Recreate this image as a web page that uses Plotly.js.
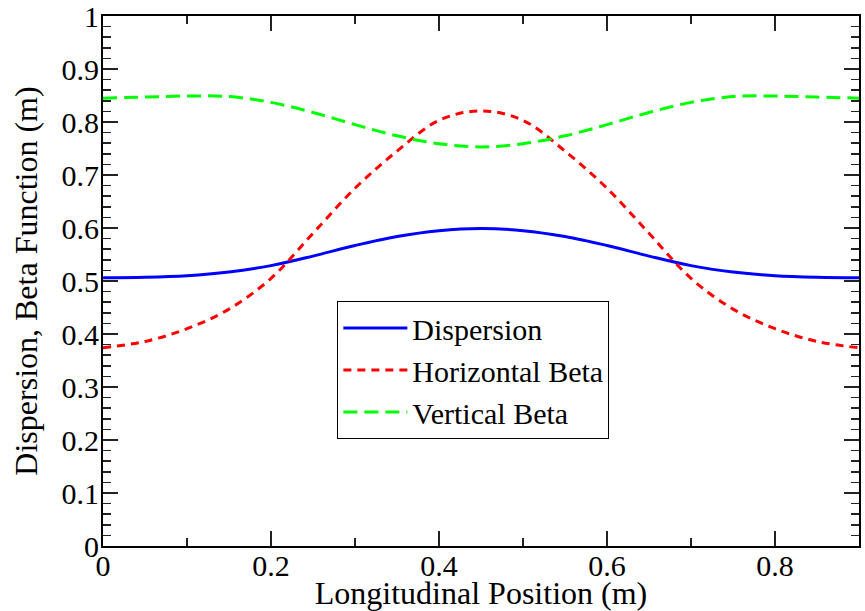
<!DOCTYPE html>
<html>
<head>
<meta charset="utf-8">
<script src="https://cdn.plot.ly/plotly-3.0.1.min.js"></script>
<style>html,body{margin:0;padding:0;background:#fff;}#chart{width:865px;height:611px;}</style>
</head>
<body>
<div id="chart"></div>
<script>
const position = [0, 0.05, 0.1, 0.15, 0.2, 0.25, 0.3, 0.35, 0.4, 0.45, 0.5, 0.55, 0.6, 0.65, 0.7, 0.75, 0.8, 0.85, 0.9];
const dispersion = [0.506, 0.507, 0.510, 0.517, 0.529, 0.547, 0.567, 0.584, 0.595, 0.599, 0.595, 0.584, 0.567, 0.547, 0.529, 0.517, 0.510, 0.507, 0.506];
const horizontalBeta = [0.374, 0.386, 0.410, 0.447, 0.505, 0.590, 0.675, 0.745, 0.803, 0.821, 0.803, 0.745, 0.675, 0.590, 0.505, 0.447, 0.410, 0.386, 0.374];
const verticalBeta = [0.845, 0.847, 0.849, 0.848, 0.837, 0.818, 0.795, 0.774, 0.759, 0.753, 0.759, 0.774, 0.795, 0.818, 0.837, 0.848, 0.849, 0.847, 0.845];
const seriesNames = ["Dispersion", "Horizontal Beta", "Vertical Beta"];

const FONT = "'Liberation Serif', 'Times New Roman', serif";
const cfg = {displayModeBar: false, staticPlot: true};

const traces = [
  {x: position, y: dispersion, name: seriesNames[0], mode: "lines",
   line: {color: "#0000ff", width: 3, shape: "spline", smoothing: 1}},
  {x: position, y: horizontalBeta, name: seriesNames[1], mode: "lines",
   line: {color: "#ff0000", width: 3, dash: "8px,6px", shape: "spline", smoothing: 1}},
  {x: position, y: verticalBeta, name: seriesNames[2], mode: "lines",
   line: {color: "#00ff00", width: 3, dash: "14px,7px", shape: "spline", smoothing: 1}}
];

const layout = {
  width: 865, height: 611,
  margin: {l: 103, r: 6, t: 16, b: 65},
  showlegend: true,
  legend: {
    x: 0.31, y: 0.332, xanchor: "left", yanchor: "middle",
    bgcolor: "#fff", bordercolor: "#000", borderwidth: 1,
    font: {family: FONT, size: 30, color: "#000"},
    itemwidth: 64
  },
  xaxis: {
    range: [0, 0.9], dtick: 0.2, tick0: 0,
    ticks: "inside", ticklen: 15, tickwidth: 1.5, tickcolor: "#222",
    showline: true, linecolor: "#000", linewidth: 2, mirror: "ticks",
    showgrid: false, zeroline: false, ticklabeloverflow: "allow",
    ticklabelstandoff: -8,
    tickfont: {family: FONT, size: 30, color: "#000"},
    minor: {dtick: 0.1, ticks: "inside", ticklen: 8, tickwidth: 1.5, tickcolor: "#222"},
    title: {text: "Longitudinal Position (m)", font: {family: FONT, size: 32, color: "#000"}, standoff: 8}
  },
  yaxis: {
    range: [0, 1], dtick: 0.1, tick0: 0,
    ticks: "inside", ticklen: 15, tickwidth: 1.5, tickcolor: "#222",
    showline: true, linecolor: "#000", linewidth: 2, mirror: "ticks",
    showgrid: false, zeroline: false, ticklabeloverflow: "allow",
    ticklabelstandoff: -4,
    tickfont: {family: FONT, size: 30, color: "#000"},
    minor: {dtick: 0.02, ticks: "inside", ticklen: 8, tickwidth: 1.5, tickcolor: "#222"},
    title: {text: "Dispersion, Beta Function (m)", font: {family: FONT, size: 32, color: "#000"}, standoff: 14}
  }
};

Plotly.newPlot("chart", traces, layout, cfg);
</script>
</body>
</html>
